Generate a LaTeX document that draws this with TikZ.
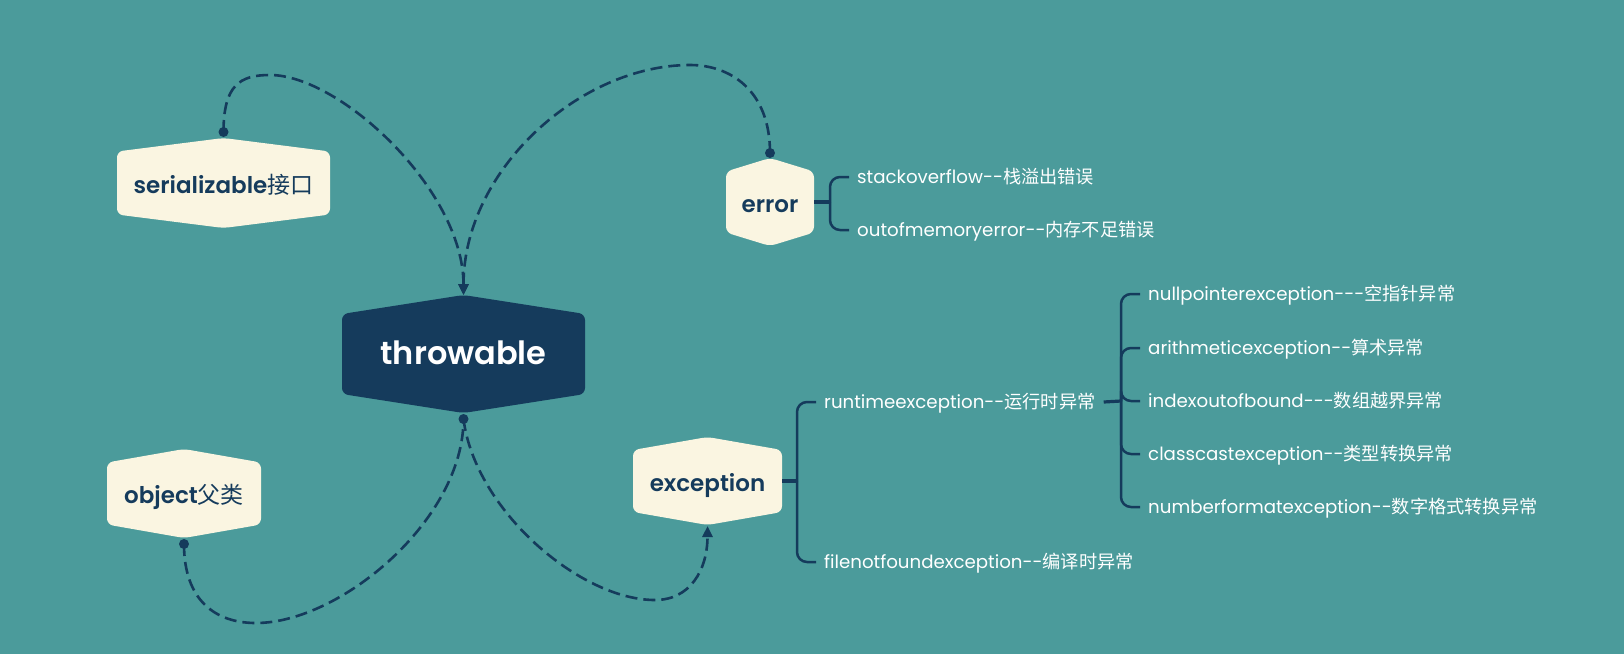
\documentclass[tikz,border=0pt]{standalone}
\usepackage{fontspec}
\newfontfamily\pop{Poppins}[BoldFont={* SemiBold}]
\newfontfamily\cjk{Noto Sans CJK SC}
\usetikzlibrary{arrows.meta}
\definecolor{bgteal}{RGB}{75,155,155}
\definecolor{navy}{RGB}{21,59,92}
\definecolor{cream}{RGB}{250,245,225}
\newcommand\hexfill[6]{\fill[#6,rounded corners=6pt] ({#1-#3},{#2-#4}) -- ({#1},{#2-#5}) -- ({#1+#3},{#2-#4}) -- ({#1+#3},{#2+#4}) -- ({#1},{#2+#5}) -- ({#1-#3},{#2+#4}) -- cycle;}
\tikzset{
  hexlabel/.style={inner sep=0pt, text height=20pt, text depth=0pt, font=\pop\fontsize{23}{27}\selectfont\bfseries, text=navy},
  leaf/.style={anchor=west, inner xsep=8pt, inner ysep=0pt, text height=16pt, text depth=3pt, text=white, font=\pop\fontsize{18.2}{22}\selectfont},
  branch/.style={draw=navy, line width=2.5pt, rounded corners=10pt},
  stub/.style={draw=navy, line width=3.2pt},
  link/.style={draw=navy, line width=2.6pt, dash pattern=on 12pt off 6pt},
  tip/.style={-{Triangle[length=11pt,width=10pt]}},
}
\begin{document}
\begin{tikzpicture}[x=1pt,y=-1pt]
\fill[bgteal] (0,0) rectangle (1624,654);
\useasboundingbox (0,0) rectangle (1624,654);

% hexagon bodies
\hexfill{223.5}{183}{106.5}{31.5}{45}{cream}
\hexfill{463.5}{354}{121.5}{40}{59}{navy}
\hexfill{770}{202}{44}{30.5}{44}{cream}
\hexfill{707.5}{481}{74.5}{31}{44}{cream}
\hexfill{184}{493.5}{77}{31}{44.5}{cream}

% labels
\node[hexlabel, minimum width=213pt] (ser) at (223.5,183) {serializable{\cjk\mdseries 接口}};
\node[hexlabel, minimum width=243pt, text=white, text height=20pt, font=\pop\fontsize{32}{36}\selectfont\bfseries] (thr) at (463.5,354) {throwable};
\node[hexlabel, minimum width=88pt] (err) at (770,202) {error};
\node[hexlabel, minimum width=149pt] (exc) at (707.5,481) {exception};
\node[hexlabel, minimum width=154pt] (obj) at (184,493.5) {object{\cjk\mdseries 父类}};

% anchor points for links
\coordinate (serdot) at (223.5,132);
\coordinate (errdot) at (770,153);
\coordinate (thrdot) at (463.5,419);
\coordinate (objdot) at (184,544);
\coordinate (thrtop) at (463.5,295);
\coordinate (exctip) at (707.5,526);

% dashed links
\draw[link,tip] (serdot) .. controls (223.5,85) and (240,75) .. (270,75) .. controls (340,75) and (463.5,190) .. (thrtop);
\draw[link,tip] (errdot) .. controls (770,90) and (730,65) .. (690,65) .. controls (580,65) and (463.5,170) .. (thrtop);
\draw[link] (objdot) .. controls (184,600) and (215,623) .. (256,623) .. controls (340,623) and (463.5,520) .. (thrdot);
\draw[link,tip] (thrdot) .. controls (475,510) and (580,600) .. (655,600) .. controls (690,600) and (707.5,570) .. (exctip);

\fill[navy] (serdot) circle (5pt);
\fill[navy] (errdot) circle (5pt);
\fill[navy] (thrdot) circle (5pt);
\fill[navy] (objdot) circle (5pt);

% leaves
\node[leaf] (so) at (849,177) {stackoverflow--{\cjk 栈溢出错误}};
\node[leaf] (oom) at (849,230) {outofmemoryerror--{\cjk 内存不足错误}};
\node[leaf] (rt) at (816,402) {runtimeexception--{\cjk 运行时异常}};
\node[leaf] (fnf) at (816,562) {filenotfoundexception--{\cjk 编译时异常}};
\node[leaf] (npe) at (1140,294) {nullpointerexception---{\cjk 空指针异常}};
\node[leaf] (ae) at (1140,348) {arithmeticexception--{\cjk 算术异常}};
\node[leaf] (ioob) at (1140,401) {indexoutofbound---{\cjk 数组越界异常}};
\node[leaf] (cce) at (1140,454) {classcastexception--{\cjk 类型转换异常}};
\node[leaf] (nfe) at (1140,507) {numberformatexception--{\cjk 数字格式转换异常}};

% branches
\coordinate (errj) at (830,202);
\coordinate (excj) at (797,481);
\coordinate (rtj) at (1121,401);
\draw[stub] (err.east) -- (errj);
\draw[branch] (errj) |- (so.west);
\draw[branch] (errj) |- (oom.west);
\draw[stub] (exc.east) -- (excj);
\draw[branch] (excj) |- (rt.west);
\draw[branch] (excj) |- (fnf.west);
\draw[stub] (rt.east) -- (rtj);
\draw[branch] (rtj) |- (npe.west);
\draw[branch] (rtj) |- (ae.west);
\draw[branch] (rtj) |- (ioob.west);
\draw[branch] (rtj) |- (cce.west);
\draw[branch] (rtj) |- (nfe.west);
\end{tikzpicture}
\end{document}
